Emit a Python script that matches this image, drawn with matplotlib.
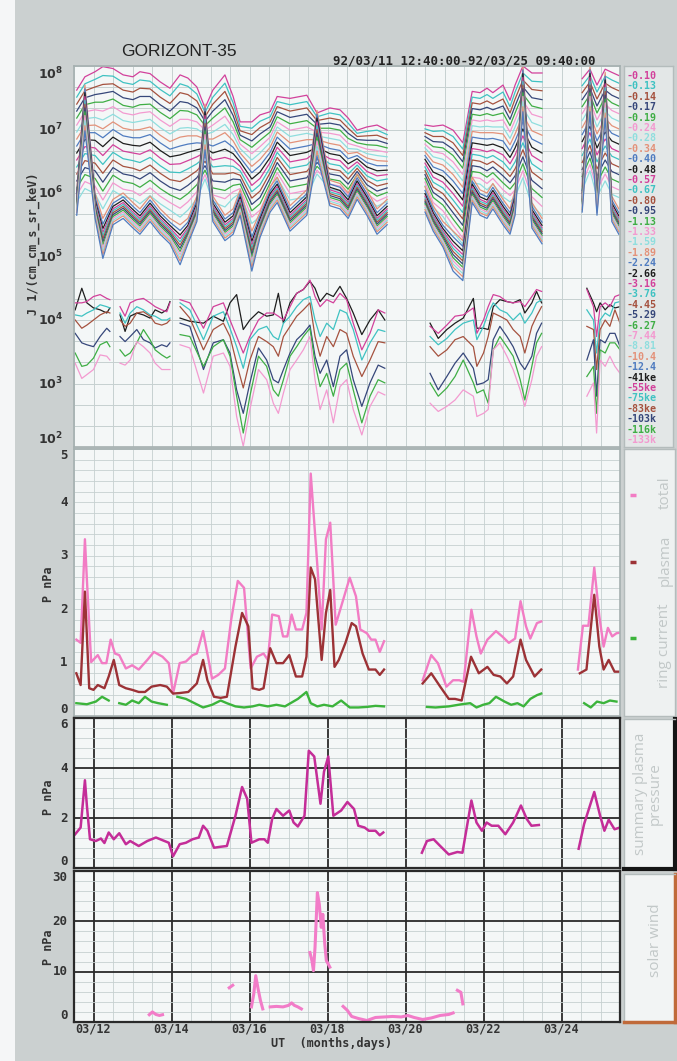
import numpy as np
import matplotlib
matplotlib.use('Agg')
import matplotlib.pyplot as plt
from matplotlib.patches import Rectangle
from matplotlib.ticker import NullFormatter

nan = np.nan

# ---------------- panel 1: particle flux, log10 J, time = day of March 1992 ----
t_up = [11.57, 11.78, 12.04, 12.24, 12.50, 12.76, 13.01, 13.19, 13.45, 13.71, 13.96, 14.22, 14.42,
        14.65, 14.86, 15.06, 15.37, 15.58, 15.76, 16.06, 16.27, 16.53, 16.71, 17.04, 17.47, 17.73,
        18.06, 18.32, 18.53, 18.76, 19.01, 19.27, 19.53,
        20.50, 20.71, 20.96, 21.22, 21.47, 21.71, 21.91, 22.09, 22.24, 22.50, 22.68, 22.81, 23.01,
        23.24, 23.50,
        24.53, 24.73, 24.91, 25.12, 25.29, 25.47]
seg_up = [33, 15, 6]

j_010 = [7.62,7.83,7.91,7.99,7.96,7.86,7.83,7.91,7.88,7.75,7.65,7.86,7.81,7.67,7.34,7.62,7.86,7.52,7.12,7.12,7.23,7.28,7.52,7.49,7.54,7.26,7.34,7.31,7.18,6.99,7.04,7.07,6.99, 7.07,7.05,7.07,6.99,6.79,7.60,7.58,7.65,7.58,7.70,7.46,7.70,8.00,7.89,7.89, 7.80,7.95,7.70,7.95,7.90,7.85]
j_013 = [7.51,7.72,7.79,7.85,7.84,7.74,7.71,7.78,7.76,7.63,7.53,7.72,7.68,7.56,7.27,7.51,7.73,7.42,7.05,7.02,7.13,7.20,7.44,7.39,7.44,7.20,7.26,7.23,7.10,6.94,6.97,6.99,6.92, 7.01,6.97,6.98,6.89,6.69,7.51,7.49,7.55,7.49,7.59,7.36,7.59,7.89,7.76,7.75, 7.69,7.85,7.59,7.84,7.78,7.73]
j_014 = [7.40,7.61,7.67,7.71,7.72,7.62,7.59,7.65,7.64,7.51,7.41,7.58,7.55,7.45,7.20,7.40,7.60,7.32,6.98,6.92,7.03,7.12,7.36,7.29,7.34,7.14,7.18,7.15,7.02,6.89,6.90,6.91,6.85, 6.95,6.89,6.89,6.79,6.59,7.42,7.40,7.45,7.40,7.48,7.26,7.48,7.78,7.63,7.61, 7.58,7.75,7.48,7.73,7.66,7.61]
j_017 = [7.29,7.50,7.55,7.57,7.60,7.50,7.47,7.52,7.52,7.39,7.29,7.44,7.42,7.34,7.13,7.29,7.47,7.22,6.91,6.82,6.93,7.04,7.28,7.19,7.24,7.08,7.10,7.07,6.94,6.84,6.83,6.83,6.78, 6.89,6.81,6.80,6.69,6.49,7.33,7.31,7.35,7.31,7.37,7.16,7.37,7.67,7.50,7.47, 7.47,7.65,7.37,7.62,7.54,7.49]
j_019 = [7.18,7.39,7.43,7.43,7.48,7.38,7.35,7.39,7.40,7.27,7.17,7.30,7.29,7.23,7.06,7.18,7.34,7.12,6.84,6.72,6.83,6.96,7.20,7.09,7.14,7.02,7.02,6.99,6.86,6.79,6.76,6.75,6.71, 6.83,6.73,6.71,6.59,6.39,7.24,7.22,7.25,7.22,7.26,7.06,7.26,7.56,7.37,7.33, 7.36,7.55,7.26,7.51,7.42,7.37]
j_024 = [7.07,7.28,7.31,7.29,7.36,7.26,7.23,7.26,7.28,7.15,7.05,7.16,7.16,7.12,6.99,7.07,7.21,7.02,6.77,6.62,6.73,6.88,7.12,6.99,7.04,6.96,6.94,6.91,6.78,6.74,6.69,6.67,6.64, 6.77,6.65,6.62,6.49,6.29,7.15,7.13,7.15,7.13,7.15,6.96,7.15,7.45,7.24,7.19, 7.25,7.45,7.15,7.40,7.30,7.25]
j_028 = [6.96,7.17,7.19,7.15,7.24,7.14,7.11,7.13,7.16,7.03,6.93,7.02,7.03,7.01,6.92,6.96,7.08,6.92,6.70,6.52,6.63,6.80,7.04,6.89,6.94,6.90,6.86,6.83,6.70,6.69,6.62,6.59,6.57, 6.71,6.57,6.53,6.39,6.19,7.06,7.04,7.05,7.04,7.04,6.86,7.04,7.34,7.11,7.05, 7.14,7.35,7.04,7.29,7.18,7.13]
j_034 = [6.85,7.06,7.07,7.01,7.12,7.02,6.99,7.00,7.04,6.91,6.81,6.88,6.90,6.90,6.85,6.85,6.95,6.82,6.63,6.42,6.53,6.72,6.96,6.79,6.84,6.84,6.78,6.75,6.62,6.64,6.55,6.51,6.50, 6.65,6.49,6.44,6.29,6.09,6.97,6.95,6.95,6.95,6.93,6.76,6.93,7.23,6.98,6.91, 7.03,7.25,6.93,7.18,7.06,7.01]
j_040 = [6.74,6.95,6.95,6.87,7.00,6.90,6.87,6.87,6.92,6.79,6.69,6.74,6.77,6.79,6.78,6.74,6.82,6.72,6.56,6.32,6.43,6.64,6.88,6.69,6.74,6.78,6.70,6.67,6.54,6.59,6.48,6.43,6.43, 6.59,6.41,6.35,6.19,5.99,6.88,6.86,6.85,6.86,6.82,6.66,6.82,7.12,6.85,6.77, 6.92,7.15,6.82,7.07,6.94,6.89]
j_048 = [6.63,6.84,6.83,6.73,6.88,6.78,6.75,6.74,6.80,6.67,6.57,6.60,6.64,6.68,6.71,6.63,6.69,6.62,6.49,6.22,6.33,6.56,6.80,6.59,6.64,6.72,6.62,6.59,6.46,6.54,6.41,6.35,6.36, 6.53,6.33,6.26,6.09,5.89,6.79,6.77,6.75,6.77,6.71,6.56,6.71,7.01,6.72,6.63, 6.81,7.05,6.71,6.96,6.82,6.77]
j_057 = [6.52,6.73,6.71,6.59,6.76,6.66,6.63,6.61,6.68,6.55,6.45,6.46,6.51,6.57,6.64,6.52,6.56,6.52,6.42,6.12,6.23,6.48,6.72,6.49,6.54,6.66,6.54,6.51,6.38,6.49,6.34,6.27,6.29, 6.47,6.25,6.17,5.99,5.79,6.70,6.68,6.65,6.68,6.60,6.46,6.60,6.90,6.59,6.49, 6.70,6.95,6.60,6.85,6.70,6.65]
j_067 = [6.41,6.62,6.59,6.45,6.64,6.54,6.51,6.48,6.56,6.43,6.33,6.32,6.38,6.46,6.57,6.41,6.43,6.42,6.35,6.02,6.13,6.40,6.64,6.39,6.44,6.60,6.46,6.43,6.30,6.44,6.27,6.19,6.22, 6.41,6.17,6.08,5.89,5.69,6.61,6.59,6.55,6.59,6.49,6.36,6.49,6.79,6.46,6.35, 6.59,6.85,6.49,6.74,6.58,6.53]
j_080 = [6.30,6.51,6.47,6.31,6.52,6.42,6.39,6.35,6.44,6.31,6.21,6.18,6.25,6.35,6.50,6.30,6.30,6.32,6.28,5.92,6.03,6.32,6.56,6.29,6.34,6.54,6.38,6.35,6.22,6.39,6.20,6.11,6.15, 6.35,6.09,5.99,5.79,5.59,6.52,6.50,6.45,6.50,6.38,6.26,6.38,6.68,6.33,6.21, 6.48,6.75,6.38,6.63,6.46,6.41]
j_095 = [6.19,6.40,6.35,6.17,6.40,6.30,6.27,6.22,6.32,6.19,6.09,6.04,6.12,6.24,6.43,6.19,6.17,6.22,6.21,5.82,5.93,6.24,6.48,6.19,6.24,6.48,6.30,6.27,6.14,6.34,6.13,6.03,6.08, 6.29,6.01,5.90,5.69,5.49,6.43,6.41,6.35,6.41,6.27,6.16,6.27,6.57,6.20,6.07, 6.37,6.65,6.27,6.52,6.34,6.29]
j_113 = [6.08,6.29,6.23,6.03,6.28,6.18,6.15,6.09,6.20,6.07,5.97,5.90,5.99,6.13,6.36,6.08,6.04,6.12,6.14,5.72,5.83,6.16,6.40,6.09,6.14,6.42,6.22,6.19,6.06,6.29,6.06,5.95,6.01, 6.23,5.93,5.81,5.59,5.39,6.34,6.32,6.25,6.32,6.16,6.06,6.16,6.46,6.07,5.93, 6.26,6.55,6.16,6.41,6.22,6.17]
j_133 = [5.97,6.18,6.11,5.89,6.16,6.06,6.03,5.96,6.08,5.95,5.85,5.76,5.86,6.02,6.29,5.97,5.91,6.02,6.07,5.62,5.73,6.08,6.32,5.99,6.04,6.36,6.14,6.11,5.98,6.24,5.99,5.87,5.94, 6.17,5.85,5.72,5.49,5.29,6.25,6.23,6.15,6.23,6.05,5.96,6.05,6.35,5.94,5.79, 6.15,6.45,6.05,6.30,6.10,6.05]
j_159 = [5.86,6.07,5.99,5.75,6.04,5.94,5.91,5.83,5.96,5.83,5.73,5.62,5.73,5.91,6.22,5.86,5.78,5.92,6.00,5.52,5.63,6.00,6.24,5.89,5.94,6.30,6.06,6.03,5.90,6.19,5.92,5.79,5.87, 6.11,5.77,5.63,5.39,5.19,6.16,6.14,6.05,6.14,5.94,5.86,5.94,6.24,5.81,5.65, 6.04,6.35,5.94,6.19,5.98,5.93]
j_189 = [6.05,7.70,6.00,5.60,5.90,6.00,5.85,5.75,5.95,5.75,5.60,5.50,5.60,5.95,7.40,5.95,5.65,5.75,6.05,5.40,5.70,6.10,6.25,5.80,6.05,7.30,6.20,6.15,6.00,6.30,6.05,5.75,5.90, 6.10,5.80,5.55,5.40,5.25,6.25,6.05,6.00,6.15,5.90,5.75,6.05,8.00,5.85,5.60, 6.10,8.00,6.05,7.90,5.95,5.75]
j_224 = [5.99,7.64,5.94,5.51,5.84,5.94,5.79,5.69,5.89,5.69,5.54,5.41,5.54,5.89,7.34,5.89,5.59,5.69,5.99,5.31,5.64,6.04,6.19,5.74,5.99,7.24,6.14,6.09,5.94,6.24,5.99,5.69,5.84, 6.04,5.74,5.49,5.31,5.16,6.19,5.99,5.94,6.09,5.84,5.69,5.99,7.94,5.79,5.54, 6.04,7.94,5.99,7.84,5.89,5.69]
j_266 = [5.94,7.58,5.89,5.44,5.79,5.89,5.74,5.64,5.84,5.64,5.49,5.34,5.49,5.84,7.28,5.84,5.54,5.64,5.94,5.24,5.59,5.99,6.14,5.69,5.94,7.18,6.09,6.04,5.89,6.19,5.94,5.64,5.79, 5.99,5.69,5.44,5.24,5.09,6.14,5.94,5.89,6.04,5.79,5.64,5.94,7.88,5.74,5.49, 5.99,7.88,5.94,7.78,5.84,5.64]
j_316 = [5.90,7.52,5.85,5.38,5.75,5.85,5.70,5.60,5.80,5.60,5.45,5.28,5.45,5.80,7.22,5.80,5.50,5.60,5.90,5.18,5.55,5.95,6.10,5.65,5.90,7.12,6.05,6.00,5.85,6.15,5.90,5.60,5.75, 5.95,5.65,5.40,5.18,5.03,6.10,5.90,5.85,6.00,5.75,5.60,5.90,7.82,5.70,5.45, 5.95,7.82,5.90,7.72,5.80,5.60]
j_376 = [5.87,7.46,5.82,5.33,5.72,5.82,5.67,5.57,5.77,5.57,5.42,5.23,5.42,5.77,7.16,5.77,5.47,5.57,5.87,5.13,5.52,5.92,6.07,5.62,5.87,7.06,6.02,5.97,5.82,6.12,5.87,5.57,5.72, 5.92,5.62,5.37,5.13,4.98,6.07,5.87,5.82,5.97,5.72,5.57,5.87,7.76,5.67,5.42, 5.92,7.76,5.87,7.66,5.77,5.57]
j_445 = [5.84,7.40,5.79,5.28,5.69,5.79,5.64,5.54,5.74,5.54,5.39,5.18,5.39,5.74,7.10,5.74,5.44,5.54,5.84,5.08,5.49,5.89,6.04,5.59,5.84,7.00,5.99,5.94,5.79,6.09,5.84,5.54,5.69, 5.89,5.59,5.34,5.08,4.93,6.04,5.84,5.79,5.94,5.69,5.54,5.84,7.70,5.64,5.39, 5.89,7.70,5.84,7.60,5.74,5.54]
j_529 = [5.81,7.34,5.76,5.23,5.66,5.76,5.61,5.51,5.71,5.51,5.36,5.13,5.36,5.71,7.04,5.71,5.41,5.51,5.81,5.03,5.46,5.86,6.01,5.56,5.81,6.94,5.96,5.91,5.76,6.06,5.81,5.51,5.66, 5.86,5.56,5.31,5.03,4.88,6.01,5.81,5.76,5.91,5.66,5.51,5.81,7.64,5.61,5.36, 5.86,7.64,5.81,7.54,5.71,5.51]
j_627 = [5.78,7.28,5.73,5.18,5.63,5.73,5.58,5.48,5.68,5.48,5.33,5.08,5.33,5.68,6.98,5.68,5.38,5.48,5.78,4.98,5.43,5.83,5.98,5.53,5.78,6.88,5.93,5.88,5.73,6.03,5.78,5.48,5.63, 5.83,5.53,5.28,4.98,4.83,5.98,5.78,5.73,5.88,5.63,5.48,5.78,7.58,5.58,5.33, 5.83,7.58,5.78,7.48,5.68,5.48]
j_744 = [5.75,7.22,5.70,5.13,5.60,5.70,5.55,5.45,5.65,5.45,5.30,5.03,5.30,5.65,6.92,5.65,5.35,5.45,5.75,4.93,5.40,5.80,5.95,5.50,5.75,6.82,5.90,5.85,5.70,6.00,5.75,5.45,5.60, 5.80,5.50,5.25,4.93,4.78,5.95,5.75,5.70,5.85,5.60,5.45,5.75,7.52,5.55,5.30, 5.80,7.52,5.75,7.42,5.65,5.45]
j_881 = [5.72,7.14,5.67,5.08,5.57,5.67,5.52,5.42,5.62,5.42,5.27,4.98,5.27,5.62,6.84,5.62,5.32,5.42,5.72,4.88,5.37,5.77,5.92,5.47,5.72,6.74,5.87,5.82,5.67,5.97,5.72,5.42,5.57, 5.77,5.47,5.22,4.88,4.73,5.92,5.72,5.67,5.82,5.57,5.42,5.72,7.44,5.52,5.27, 5.77,7.44,5.72,7.34,5.62,5.42]
j_104 = [5.69,7.06,5.64,5.03,5.54,5.64,5.49,5.39,5.59,5.39,5.24,4.93,5.24,5.59,6.76,5.59,5.29,5.39,5.69,4.83,5.34,5.74,5.89,5.44,5.69,6.66,5.84,5.79,5.64,5.94,5.69,5.39,5.54, 5.74,5.44,5.19,4.83,4.68,5.89,5.69,5.64,5.79,5.54,5.39,5.69,7.36,5.49,5.24, 5.74,7.36,5.69,7.26,5.59,5.39]
j_124 = [5.65,6.98,5.60,4.97,5.50,5.60,5.45,5.35,5.55,5.35,5.20,4.87,5.20,5.55,6.68,5.55,5.25,5.35,5.65,4.77,5.30,5.70,5.85,5.40,5.65,6.58,5.80,5.75,5.60,5.90,5.65,5.35,5.50, 5.70,5.40,5.15,4.77,4.62,5.85,5.65,5.60,5.75,5.50,5.35,5.65,7.28,5.45,5.20, 5.70,7.28,5.65,7.18,5.55,5.35]

t_lo = [11.53, 11.70, 11.83, 12.00, 12.17, 12.34, 12.42,
        12.68, 12.81, 12.94, 13.11, 13.28, 13.45, 13.58, 13.75, 13.88, 13.96,
        14.22, 14.47, 14.82, 15.07, 15.33, 15.50, 15.67, 15.84, 16.01, 16.23, 16.44, 16.61, 16.74,
        16.87, 17.04, 17.21, 17.38, 17.55, 17.68, 17.81, 17.98, 18.15, 18.32, 18.49, 18.66, 18.88,
        19.09, 19.30, 19.47,
        20.63, 20.84, 21.06, 21.27, 21.48, 21.74, 21.83, 22.00, 22.12, 22.25, 22.42, 22.60, 22.76,
        22.94, 23.06, 23.24, 23.36, 23.49,
        24.65, 24.82, 24.90, 24.99, 25.12, 25.24, 25.37, 25.50]
seg_lo = [7, 10, 29, 18, 8]

j_41ke = [4.16,4.50,4.27,4.19,4.16,4.11,4.19, 4.08,3.82,4.06,4.11,4.08,4.03,4.16,4.11,4.16,4.29,
          4.03,3.98,3.95,4.06,3.98,4.27,4.40,3.85,4.00,4.13,4.06,4.08,4.42,3.95,4.27,4.42,4.48,4.61,4.50,4.29,4.42,4.37,4.53,4.34,4.11,3.77,4.00,4.16,4.00,
          3.95,3.71,3.85,3.95,4.03,4.34,3.87,3.87,3.85,4.21,4.32,4.29,4.27,4.32,4.11,4.27,4.45,4.27,
          4.50,4.27,4.13,4.27,4.16,4.24,4.19,4.21]
j_55ke = [4.27,4.27,4.29,4.37,4.40,4.34,4.32, 4.21,4.06,4.27,4.32,4.34,4.27,4.21,4.16,4.13,4.27,
          4.32,4.27,3.87,4.21,4.27,4.00,3.74,3.48,3.74,4.00,4.11,4.11,4.06,4.00,4.21,4.42,4.48,4.63,4.37,4.21,4.32,4.27,4.42,4.32,3.95,3.53,3.79,4.16,4.11,
          3.90,3.79,3.92,4.06,4.08,4.19,3.79,4.00,4.21,4.40,4.37,4.29,4.27,4.29,4.21,4.37,4.48,4.45,
          4.48,4.21,3.74,4.21,4.27,4.21,4.37,4.40]
j_75ke = [4.08,4.06,4.11,4.16,4.24,4.21,4.19, 4.11,3.95,4.11,4.21,4.16,4.08,4.06,4.00,4.00,4.03,
          4.27,4.16,3.69,4.06,4.13,3.87,3.58,3.24,3.69,3.85,3.90,3.74,3.69,3.95,4.06,4.21,4.32,4.37,4.00,3.74,3.95,3.85,4.16,4.11,3.85,3.37,3.64,3.85,3.82,
          3.74,3.61,3.71,3.85,3.95,4.00,3.69,3.90,4.11,4.27,4.16,4.11,4.00,4.11,3.95,4.11,4.27,4.32,
          4.16,4.00,3.48,4.00,4.11,4.06,4.27,4.29]
j_83ke = [4.00,3.87,3.92,4.00,4.08,4.13,4.11, 4.00,3.90,3.95,4.11,4.13,4.06,3.95,3.92,3.95,4.00,
          4.21,4.03,3.53,3.85,3.95,3.74,3.32,2.93,3.37,3.74,3.66,3.58,3.43,3.74,3.90,4.06,4.16,4.27,3.74,3.43,3.74,3.58,3.85,3.79,3.43,3.11,3.37,3.66,3.64,
          3.58,3.43,3.53,3.69,3.74,3.58,3.27,3.48,3.74,4.11,4.06,4.00,3.85,3.74,3.48,3.90,4.06,4.21,
          3.90,3.85,3.22,3.85,4.00,3.90,4.16,3.95]
j_103k = [3.79,3.64,3.61,3.58,3.74,3.87,3.82, 3.74,3.66,3.74,3.85,3.69,3.64,3.56,3.61,3.58,3.64,
          3.95,3.90,3.22,3.64,3.69,3.48,2.90,2.53,3.01,3.56,3.37,3.06,3.01,3.22,3.48,3.69,3.79,3.92,3.43,3.16,3.37,2.95,3.43,3.53,3.06,2.64,3.01,3.29,3.24,
          3.16,2.90,3.11,3.32,3.48,3.24,2.98,3.01,3.06,3.69,3.90,3.74,3.58,3.32,3.22,3.43,3.79,3.95,
          3.37,3.69,2.80,3.69,3.64,3.79,3.79,3.58]
j_116k = [3.48,3.27,3.29,3.40,3.61,3.66,3.58, 3.53,3.43,3.48,3.64,3.85,3.69,3.53,3.45,3.40,3.43,
          3.77,3.74,3.27,3.58,3.69,3.43,2.80,2.22,2.80,3.43,3.27,2.90,2.80,3.06,3.43,3.58,3.74,3.87,3.32,2.95,3.16,2.80,3.22,3.32,2.90,2.38,2.80,3.06,3.01,
          3.01,2.80,2.93,3.11,3.37,3.01,2.85,2.90,2.69,3.53,3.74,3.58,3.43,3.06,2.74,3.27,3.64,3.79,
          3.11,3.27,2.53,3.53,3.48,3.64,3.64,3.53]
j_133k = [3.32,3.08,3.14,3.22,3.45,3.43,3.37, 3.32,3.29,3.37,3.66,3.58,3.48,3.32,3.22,3.22,3.22,
          3.61,3.56,2.85,3.43,3.48,3.27,2.48,2.01,2.59,3.22,3.06,2.69,2.53,2.85,3.22,3.37,3.53,3.74,3.06,2.59,2.90,2.38,2.95,3.06,2.59,2.19,2.64,2.87,2.82,
          2.69,2.56,2.64,2.74,2.90,2.80,2.48,2.53,2.59,3.53,3.64,3.43,3.22,2.90,2.64,3.06,3.43,3.58,
          2.80,3.01,2.22,3.37,3.27,3.43,3.27,3.16]

ch_labels = ['0.10', '0.13', '0.14', '0.17', '0.19', '0.24', '0.28', '0.34', '0.40', '0.48',
             '0.57', '0.67', '0.80', '0.95', '1.13', '1.33', '1.59', '1.89', '2.24', '2.66',
             '3.16', '3.76', '4.45', '5.29', '6.27', '7.44', '8.81', '10.4', '12.4',
             '41ke', '55ke', '75ke', '83ke', '103k', '116k', '133k']
ch_colors = ['#d2419b', '#3fc2c2', '#a5523f', '#36477a', '#3fae45',
             '#f39ad0', '#8fdede', '#e3927a', '#4f7cc0', '#1e1e1e']

# ---------------- panel 2: ring current / plasma / total pressure, nPa ----
t_tot = [11.56,11.67,11.78,11.83,11.94,12.11,12.22,12.33,12.44,12.55,12.66,12.83,12.99,13.16,13.38,
         13.55,13.77,13.93,14.04,14.21,14.37,14.54,14.65,14.81,14.92,15.04,15.20,15.37,15.53,15.70,
         15.86,16.03,16.19,16.36,16.47,16.58,16.75,16.86,16.97,17.08,17.19,17.35,17.46,17.57,17.74,
         17.85,17.96,18.07,18.21,18.35,18.57,18.73,18.84,19.01,19.12,19.23,19.34,19.45, nan,
         20.44,20.66,20.83,21.05,21.22,21.38,21.49,21.69,21.82,21.93,22.10,22.32,22.48,22.65,22.81,
         22.95,23.09,23.20,23.37,23.48, nan,
         24.42,24.55,24.69,24.84,24.97,25.08,25.19,25.30,25.41,25.50]
p_tot = [1.43,1.37,3.31,2.56,1.01,1.14,0.99,0.99,1.43,1.17,1.14,0.89,0.95,0.87,1.05,
         1.20,1.11,0.99,0.42,0.99,1.02,1.14,1.17,1.59,1.17,0.70,0.77,0.89,1.80,2.53,
         2.40,0.89,1.11,1.17,1.05,1.90,1.87,1.49,1.49,1.90,1.62,1.62,1.93,4.54,2.81,
         1.62,3.31,3.62,1.71,2.05,2.59,2.24,1.62,1.55,1.43,1.43,1.20,1.40, nan,
         0.67,1.14,0.99,0.55,0.67,0.67,0.64,1.99,1.49,1.17,1.43,1.59,1.49,1.37,1.45,
         2.15,1.68,1.45,1.74,1.77, nan,
         0.87,1.69,1.69,2.78,1.87,1.30,1.65,1.49,1.55,1.56]

t_pla = [11.56,11.67,11.78,11.89,12.00,12.11,12.28,12.39,12.52,12.66,12.83,12.99,13.16,13.32,13.49,
         13.71,13.88,14.04,14.21,14.43,14.65,14.81,14.92,15.09,15.26,15.42,15.64,15.81,15.97,16.08,
         16.25,16.36,16.53,16.69,16.86,17.02,17.19,17.35,17.46,17.57,17.68,17.85,17.96,18.07,18.18,
         18.29,18.46,18.62,18.73,18.90,19.06,19.23,19.34,19.45, nan,
         20.44,20.66,20.89,21.11,21.27,21.44,21.68,21.88,22.10,22.26,22.43,22.60,22.76,22.95,23.09,
         23.31,23.48, nan,
         24.47,24.64,24.84,24.97,25.08,25.21,25.36,25.50]
p_pla = [0.80,0.58,2.33,0.52,0.49,0.58,0.52,0.74,1.05,0.58,0.52,0.49,0.45,0.45,0.55,
         0.58,0.55,0.42,0.43,0.45,0.61,1.05,0.67,0.36,0.34,0.36,1.30,1.93,1.68,0.52,
         0.49,0.52,1.27,0.99,0.99,1.14,0.74,0.74,1.11,2.78,2.56,1.05,1.93,2.36,0.92,
         1.05,1.37,1.74,1.68,1.17,0.87,0.87,0.77,0.87, nan,
         0.61,0.80,0.55,0.32,0.32,0.29,1.11,0.80,0.92,0.77,0.74,0.61,0.74,1.43,1.05,
         0.74,0.87, nan,
         0.80,0.87,2.27,1.30,0.87,1.05,0.83,0.83]

t_rc = [11.56,11.83,12.06,12.22,12.39, nan,
        12.66,12.83,12.99,13.16,13.32,13.49,13.66,13.88, nan,
        14.15,14.37,14.59,14.81,15.04,15.26,15.42,15.64,15.86,16.08,16.25,16.47,16.69,16.91,17.24,
        17.46,17.57,17.74,17.91,18.13,18.35,18.57,18.79,19.01,19.23,19.45, nan,
        20.55,20.77,21.11,21.44,21.66,21.82,21.99,22.15,22.32,22.54,22.71,22.87,23.03,23.20,23.37,
        23.48, nan,
        24.58,24.75,24.91,25.08,25.24,25.41]
p_rc = [0.24,0.22,0.27,0.36,0.29, nan,
        0.24,0.21,0.29,0.24,0.36,0.27,0.24,0.21, nan,
        0.36,0.32,0.24,0.16,0.21,0.29,0.24,0.18,0.16,0.18,0.21,0.18,0.21,0.18,0.32,
        0.45,0.24,0.18,0.21,0.18,0.29,0.16,0.16,0.17,0.19,0.18, nan,
        0.17,0.16,0.18,0.22,0.24,0.16,0.21,0.24,0.36,0.27,0.21,0.24,0.18,0.32,0.39,
        0.42, nan,
        0.24,0.16,0.27,0.24,0.29,0.27]

# ---------------- panel 3: summary plasma pressure ----
t_sum = [11.53,11.67,11.78,11.83,11.91,12.06,12.19,12.28,12.39,12.52,12.66,12.83,12.94,13.16,13.38,
         13.60,13.82,13.93,14.04,14.21,14.37,14.54,14.70,14.81,14.92,15.09,15.26,15.42,15.64,15.81,
         15.94,16.05,16.25,16.38,16.47,16.58,16.69,16.86,17.02,17.13,17.24,17.41,17.52,17.66,17.82,
         17.91,18.02,18.15,18.35,18.51,18.68,18.79,18.95,19.06,19.23,19.34,19.43, nan,
         20.42,20.55,20.72,20.89,21.11,21.33,21.46,21.69,21.82,21.96,22.08,22.21,22.38,22.56,22.76,
         22.96,23.11,23.23,23.42, nan,
         24.44,24.58,24.84,24.99,25.10,25.21,25.36,25.50]
p_sum = [1.35,1.62,3.51,2.50,1.15,1.08,1.18,1.00,1.42,1.15,1.39,0.95,1.08,0.88,1.08,
         1.22,1.08,1.01,0.47,0.95,1.01,1.15,1.22,1.69,1.49,0.81,0.85,0.88,2.09,3.24,
         2.77,1.01,1.15,1.15,1.01,1.96,2.36,2.09,2.30,1.82,1.66,2.09,4.69,4.46,2.57,
         3.85,4.46,2.09,2.30,2.64,2.36,1.69,1.62,1.49,1.49,1.31,1.42, nan,
         0.61,1.08,1.15,0.88,0.54,0.64,0.61,2.70,1.82,1.49,1.82,1.69,1.69,1.35,1.82,
         2.50,1.96,1.69,1.72, nan,
         0.77,1.76,3.04,2.09,1.49,1.93,1.55,1.62]

# ---------------- panel 4: solar wind pressure ----
t_sw = [13.43,13.51,13.60,13.69,13.77, nan, 15.48,15.57, nan,
        16.05,16.11,16.16,16.22,16.28,16.34, nan,
        16.53,16.69,16.86,17.00,17.08,17.15,17.24,17.33, nan,
        17.55,17.60,17.64,17.68,17.74,17.79,17.84,17.88,17.93,17.97,18.02,18.06, nan,
        18.40,18.51,18.62,18.79,19.01,19.23,19.45,19.67,19.89,20.06,20.22,20.44,20.66,20.89,21.11,
        21.22, nan, 21.33,21.42,21.47]
p_sw = [1.45,2.0,1.5,1.3,1.45, nan, 6.8,7.3, nan,
        3.0,5.6,9.2,6.6,4.3,2.6, nan,
        3.0,3.1,3.0,3.3,3.8,3.3,3.0,2.6, nan,
        13.8,12.2,10.2,14.8,25.7,23.4,18.8,21.4,15.5,12.2,11.5,10.9, nan,
        3.1,2.3,1.1,0.7,0.3,0.9,1.0,1.1,1.0,1.3,0.9,0.5,0.8,1.3,1.5,
        1.8, nan, 6.3,5.9,3.6]

day_ticks = [12, 14, 16, 18, 20, 22, 24]
day_labels = ['03/%02d' % d for d in day_ticks]


def gaps(vals, lens):
    out, i = [], 0
    for n in lens:
        out.extend(vals[i:i + n])
        out.append(nan)
        i += n
    return np.array(out[:-1], dtype=float)


W, H = 677, 1061
MONO = 'DejaVu Sans Mono'


def box(x0, y0, x1, y1):
    return [x0 / W, 1 - y1 / H, (x1 - x0) / W, (y1 - y0) / H]


fig = plt.figure(figsize=(W / 100, H / 100), dpi=100)
fig.patch.set_facecolor('#cbd0d0')
fig.patches.append(Rectangle((0, 0), 15 / W, 1, transform=fig.transFigure,
                             facecolor='#f5f6f7', edgecolor='none', zorder=0))

ax1 = fig.add_axes(box(74, 66, 620, 447))
ax2 = fig.add_axes(box(74, 449, 620, 716))
ax3 = fig.add_axes(box(74, 718, 620, 868))
ax4 = fig.add_axes(box(74, 871, 620, 1022))

light = '#c6d0d0'
dark = '#2a2a2a'
for ax in (ax1, ax2, ax3, ax4):
    ax.set_facecolor('#f4f7f7')
    ax.set_xlim(11.5, 25.5)
    ax.set_axisbelow(True)
    ax.tick_params(which='both', length=0, labelbottom=False, labelleft=False)
    ax.set_xticks(np.arange(11.5, 25.51, 0.5), minor=True)

# panel 1 grid
ax1.set_yscale('log')
ax1.set_ylim(1e2, 1e8)
ax1.set_yticks([10.0 ** e for e in range(2, 9)])
ax1.set_yticks(10.0 ** np.arange(2, 8, 1 / 3), minor=True)
ax1.yaxis.set_major_formatter(NullFormatter())
ax1.yaxis.set_minor_formatter(NullFormatter())
ax1.set_xticks(day_ticks)
ax1.grid(True, which='both', color=light, lw=0.7)
for s in ax1.spines.values():
    s.set_color('#a5b0b0')
    s.set_linewidth(1.2)

up_series = [j_010, j_013, j_014, j_017, j_019, j_024, j_028, j_034, j_040, j_048,
             j_057, j_067, j_080, j_095, j_113, j_133, j_159, j_189, j_224, j_266,
             j_316, j_376, j_445, j_529, j_627, j_744, j_881, j_104, j_124]
lo_series = [j_41ke, j_55ke, j_75ke, j_83ke, j_103k, j_116k, j_133k]
tu = gaps(t_up, seg_up)
tl = gaps(t_lo, seg_lo)
for i, s in enumerate(up_series):
    ax1.plot(tu, 10 ** gaps(s, seg_up), color=ch_colors[i % 10], lw=0.9)
for i, s in enumerate(lo_series):
    ax1.plot(tl, 10 ** gaps(s, seg_lo), color=ch_colors[(29 + i) % 10], lw=0.9)

for e in range(2, 9):
    va = 'top' if e == 8 else ('bottom' if e == 2 else 'center')
    ax1.text(-0.02, 10.0 ** e, r'$\mathbf{10^{%d}}$' % e, transform=ax1.get_yaxis_transform(),
             ha='right', va=va, fontsize=9, color='#333333')

# panel 2
ax2.set_ylim(0, 5)
ax2.set_yticks(np.arange(0, 5.01, 0.2))
ax2.set_xticks(day_ticks)
ax2.grid(True, which='both', color=light, lw=0.6)
for s in ax2.spines.values():
    s.set_color('#a5b0b0')
    s.set_linewidth(1.2)
ax2.plot(t_tot, p_tot, color='#f27cc4', lw=1.7)
ax2.plot(t_pla, p_pla, color='#9c3236', lw=1.7)
ax2.plot(t_rc, p_rc, color='#3cb43c', lw=1.7)

# panel 3
ax3.set_ylim(0, 6)
ax3.set_xticks(day_ticks)
ax3.set_yticks([2, 4])
ax3.set_yticks(np.arange(0, 6.01, 0.4), minor=True)
ax3.grid(True, which='minor', color=light, lw=0.6)
ax3.grid(True, which='major', color=dark, lw=1.3)
ax3.plot(t_sum, p_sum, color='#c42d98', lw=1.8)

# panel 4
ax4.set_ylim(0, 30)
ax4.set_xticks(day_ticks)
ax4.set_yticks([10, 20])
ax4.set_yticks(np.arange(0, 30.01, 2), minor=True)
ax4.grid(True, which='minor', color=light, lw=0.6)
ax4.grid(True, which='major', color=dark, lw=1.3)
ax4.plot(t_sw, p_sw, color='#f27cc8', lw=2.2)
ax4.tick_params(labelbottom=True, pad=0)
ax4.set_xticklabels(day_labels, fontfamily=MONO, fontweight='bold', fontsize=8.5, color='#333333')

for ax in (ax3, ax4):
    for s in ax.spines.values():
        s.set_color(dark)
        s.set_linewidth(1.6)

for ax, vals in ((ax2, [0, 1, 2, 3, 4, 5]), (ax3, [0, 2, 4, 6]), (ax4, [0, 10, 20, 30])):
    top = vals[-1]
    for v in vals:
        va = 'top' if v == top else ('bottom' if v == 0 else 'center')
        ax.text(-0.012, v, str(v), transform=ax.get_yaxis_transform(), ha='right', va=va,
                fontfamily=MONO, fontweight='bold', fontsize=9, color='#333333')

# axis titles
fig.text(33 / W, 1 - 244 / H, 'J 1/(cm_cm_s_sr_keV)', rotation=90, ha='center', va='center',
         fontfamily=MONO, fontweight='bold', fontsize=8.5, color='#333333')
for yp in (584, 797, 947):
    fig.text(49 / W, 1 - yp / H, 'P nPa', rotation=90, ha='center', va='center',
             fontfamily=MONO, fontweight='bold', fontsize=8.5, color='#333333')
fig.text(332 / W, 1 - 1043 / H, 'UT  (months,days)', ha='center', va='center',
         fontfamily=MONO, fontweight='bold', fontsize=8.5, color='#333333')
fig.text(121 / W, 1 - 52 / H, 'GORIZONT-35', ha='left', va='center',
         fontfamily='Liberation Sans', fontsize=12.5, color='#222222')
fig.text(333 / W, 1 - 61 / H, '92/03/11 12:40:00-92/03/25 09:40:00', ha='left', va='center',
         fontfamily=MONO, fontweight='bold', fontsize=9, color='#222222')

# right-hand boxes
b1 = fig.add_axes(box(624, 66, 673, 447))
b2 = fig.add_axes(box(624, 449, 675, 716))
b3 = fig.add_axes(box(624, 719, 675, 869))
b4 = fig.add_axes(box(624, 874, 675, 1022))
for b, fc in ((b1, '#e3e7e7'), (b2, '#eef1f1'), (b3, '#f2f4f4'), (b4, '#f2f4f4')):
    b.set_facecolor(fc)
    b.set_xticks([])
    b.set_yticks([])
    b.set_xlim(0, 1)
    b.set_ylim(0, 1)
    for s in b.spines.values():
        s.set_color('#b4bcbc')
        s.set_linewidth(1.0)
for side in ('right', 'bottom'):
    b3.spines[side].set_color('#151515')
    b3.spines[side].set_linewidth(3)
    b4.spines[side].set_color('#c06a3a')
    b4.spines[side].set_linewidth(2.5)

for i, lab in enumerate(ch_labels):
    fig.text(627 / W, 1 - (76 + 10.4 * i) / H, '-' + lab, ha='left', va='center',
             fontfamily=MONO, fontweight='bold', fontsize=7.2, color=ch_colors[i % 10])

soft = '#c2c8c8'
b2.text(0.80, 0.835, 'total', rotation=90, ha='center', va='center', color=soft,
        fontfamily='Open Sans', fontsize=11)
b2.text(0.80, 0.584, 'plasma', rotation=90, ha='center', va='center', color=soft,
        fontfamily='Open Sans', fontsize=11)
b2.text(0.80, 0.262, 'ring current', rotation=90, ha='center', va='center', color=soft,
        fontfamily='Open Sans', fontsize=11)
for yv, c in ((0.828, '#f27cc4'), (0.577, '#9c3236'), (0.292, '#3cb43c')):
    b2.plot([0.12, 0.24], [yv, yv], color=c, lw=2.5, solid_capstyle='butt')
b3.text(0.47, 0.5, 'summary plasma\npressure', rotation=90, ha='center', va='center',
        color=soft, fontfamily='Open Sans', fontsize=11, linespacing=1.0)
b4.text(0.62, 0.55, 'solar wind', rotation=90, ha='center', va='center', color=soft,
        fontfamily='Open Sans', fontsize=11)

fig.savefig('out.png', dpi=100, facecolor=fig.get_facecolor())
